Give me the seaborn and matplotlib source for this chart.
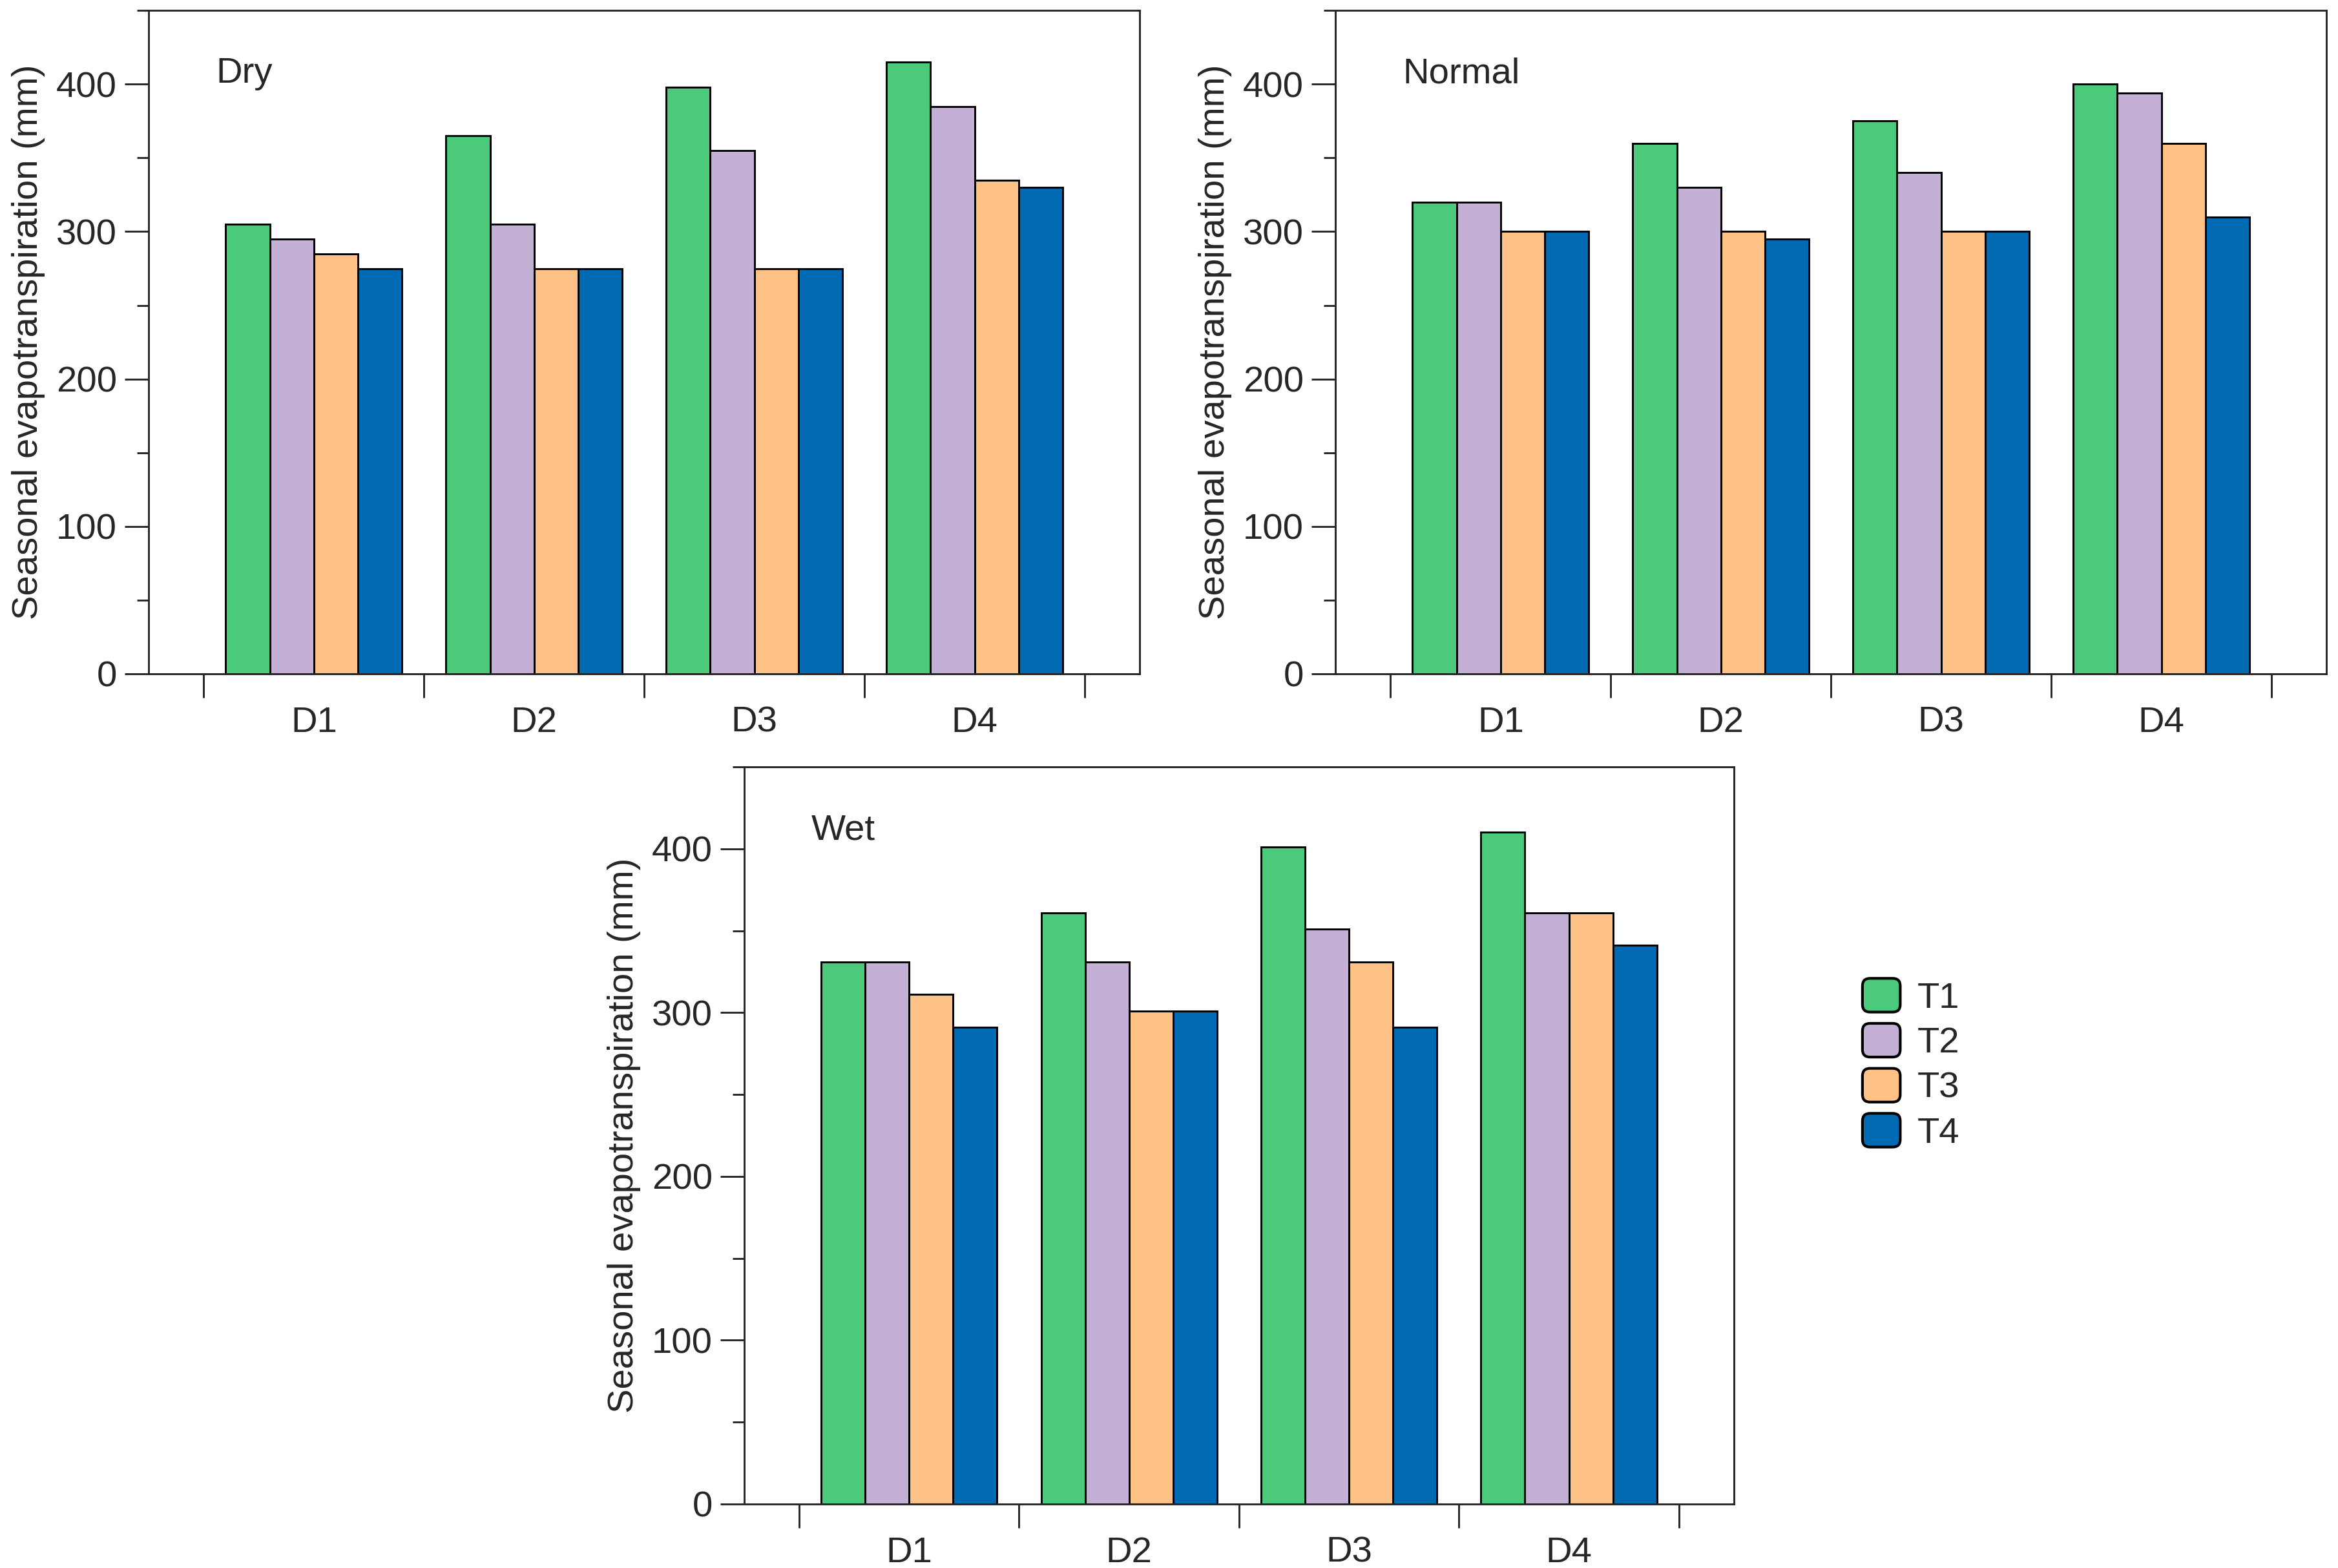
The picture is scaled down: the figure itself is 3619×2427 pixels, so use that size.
import numpy as np
import pandas as pd
import matplotlib
matplotlib.use('Agg')
import matplotlib.pyplot as plt
import seaborn as sns
from matplotlib.patches import FancyBboxPatch, Patch
from matplotlib.legend_handler import HandlerPatch

# categories
districts = ['D1', 'D2', 'D3', 'D4']
treatments = ['T1', 'T2', 'T3', 'T4']
colors = ['#4bca7b', '#c5b0d5', '#fec287', '#006bb2']

# seasonal evapotranspiration (mm), one list per treatment, values for D1..D4
dry_t1 = [305, 365, 398, 415]
dry_t2 = [295, 305, 355, 385]
dry_t3 = [285, 275, 275, 335]
dry_t4 = [275, 275, 275, 330]

normal_t1 = [320, 360, 375, 400]
normal_t2 = [320, 330, 340, 394]
normal_t3 = [300, 300, 300, 360]
normal_t4 = [300, 295, 300, 310]

wet_t1 = [331, 361, 401, 410]
wet_t2 = [331, 331, 351, 361]
wet_t3 = [311, 301, 331, 361]
wet_t4 = [291, 301, 291, 341]

ylabel = 'Seasonal evapotranspiration (mm)'
FS = 13.5


def make_frame(series):
    rows = []
    for t, vals in zip(treatments, series):
        for d, v in zip(districts, vals):
            rows.append({'District': d, 'Treatment': t, 'ET': v})
    return pd.DataFrame(rows)


class HandlerRound(HandlerPatch):
    def create_artists(self, legend, orig_handle, xdescent, ydescent,
                       width, height, fontsize, trans):
        p = FancyBboxPatch((-xdescent, -ydescent), width, height,
                           boxstyle='round,pad=0,rounding_size=%f' % (0.2 * width),
                           facecolor=orig_handle.get_facecolor(),
                           edgecolor='black', linewidth=1.0, transform=trans)
        return [p]


sns.set_style('ticks')
plt.rcParams['font.family'] = ['Liberation Sans', 'DejaVu Sans']
plt.rcParams['axes.linewidth'] = 0.7

fig = plt.figure(figsize=(3619 / 300, 2427 / 300), dpi=300)

panels = [
    ('Dry', [dry_t1, dry_t2, dry_t3, dry_t4], [0.0636, 0.5703, 0.4239, 0.4230]),
    ('Normal', [normal_t1, normal_t2, normal_t3, normal_t4], [0.5712, 0.5703, 0.4239, 0.4230]),
    ('Wet', [wet_t1, wet_t2, wet_t3, wet_t4], [0.3183, 0.0408, 0.4233, 0.4701]),
]

for name, series, rect in panels:
    ax = fig.add_axes(rect)
    df = make_frame(series)
    sns.barplot(data=df, x='District', y='ET', hue='Treatment',
                order=districts, hue_order=treatments, palette=colors,
                saturation=1, width=0.8, edgecolor='black', linewidth=0.7,
                legend=False, ax=ax)
    ax.set_xlim(-0.75, 3.75)
    ax.set_ylim(0, 450)
    ax.set_yticks([0, 100, 200, 300, 400])
    ax.set_yticks(np.arange(50, 451, 100), minor=True)
    ax.set_xticks(range(len(districts)))
    ax.set_xticklabels(districts)
    ax.set_xticks(np.arange(-0.5, 3.6, 1), minor=True)
    ax.tick_params(axis='x', which='major', length=0, pad=12, labelsize=FS)
    ax.tick_params(axis='x', which='minor', length=8.8, width=0.7, direction='out')
    ax.tick_params(axis='y', which='major', length=8.8, width=0.7, pad=3, labelsize=FS)
    ax.tick_params(axis='y', which='minor', length=4.4, width=0.7)
    ax.set_xlabel('')
    ax.set_ylabel(ylabel, fontsize=FS, labelpad=4)
    for s in ax.spines.values():
        s.set_visible(True)
        s.set_linewidth(0.7)
    ax.annotate(name, xy=(0.068, 1), xycoords='axes fraction',
                xytext=(0, -26.9), textcoords='offset points',
                ha='left', va='baseline', fontsize=FS)

handles = [Patch(facecolor=c, edgecolor='black', label=t) for c, t in zip(colors, treatments)]
fig.legend(handles=handles, loc='center left', bbox_to_anchor=(0.7966, 0.3212),
           frameon=False, fontsize=FS, handlelength=1.04, handleheight=1.05,
           handletextpad=0.46, labelspacing=0.22, borderpad=0, borderaxespad=0,
           handler_map={Patch: HandlerRound()})

fig.savefig('out.png', dpi=300)
